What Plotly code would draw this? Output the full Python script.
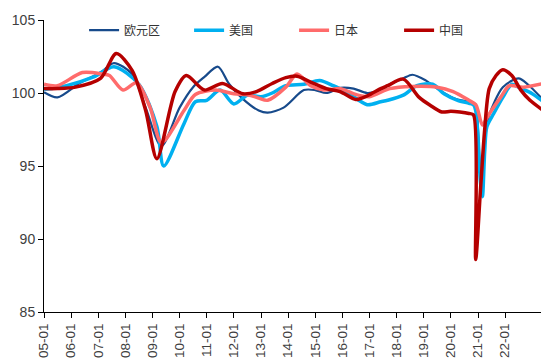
import plotly.graph_objects as go

# ---------------- data ----------------
euro_dates = ["2005-01","2005-07","2006-05","2007-02","2007-08","2008-04","2008-10","2009-05",
              "2010-01","2010-07","2010-12","2011-06","2011-11","2012-05","2012-12","2013-04",
              "2013-11","2014-08","2015-01","2015-06","2015-12","2016-06","2016-12","2017-06",
              "2017-10","2018-04","2018-08","2019-02","2019-08","2020-03","2020-09","2020-11",
              "2020-12","2021-01","2021-02","2021-03","2021-04","2021-05","2021-06","2021-12",
              "2022-07","2022-11","2023-06"]
euro_vals = [100.05, 99.7, 100.7, 101.4, 102.05, 101.3, 99.0, 96.35,
             99.0, 100.4, 101.1, 101.8, 100.6, 99.6, 98.8, 98.65,
             99.0, 100.2, 100.2, 100.0, 100.35, 100.3, 100.0, 100.2,
             100.6, 101.0, 101.25, 100.85, 100.2, 99.6, 99.4, 99.3,
             99.2, 97.5, 94.5, 93.8, 96.5, 97.8, 98.5, 100.4,
             101.0, 100.6, 99.5]

us_dates = ["2005-01","2005-11","2006-11","2007-08","2008-07","2009-03","2009-06","2010-03",
            "2010-08","2011-01","2011-07","2012-01","2012-07","2013-01","2013-06","2013-12",
            "2014-08","2015-03","2015-09","2016-04","2016-12","2017-06","2017-09","2018-04",
            "2018-10","2019-05","2019-10","2020-04","2020-09","2020-11","2020-12","2021-01",
            "2021-02","2021-03","2021-04","2021-05","2021-08","2021-12","2022-04","2022-07",
            "2023-01","2023-06"]
us_vals = [100.25, 100.5, 101.1, 101.8, 100.6, 97.7, 95.0, 97.9,
           99.4, 99.5, 100.2, 99.25, 99.85, 99.75, 100.0, 100.5,
           100.6, 100.85, 100.5, 99.95, 99.2, 99.4, 99.5, 99.85,
           100.5, 100.6, 99.95, 99.5, 99.3, 99.2, 98.8, 97.0,
           94.0, 92.9, 96.0, 97.7, 98.6, 99.7, 100.6, 100.4,
           99.95, 99.4]

jp_dates = ["2005-01","2005-07","2006-06","2007-03","2007-06","2007-12","2008-06","2008-12",
            "2009-05","2010-03","2010-08","2011-05","2012-01","2012-08","2012-12","2013-04",
            "2013-12","2014-05","2014-11","2015-05","2015-12","2016-07","2017-01","2017-10",
            "2018-08","2019-07","2020-02","2020-09","2020-12","2021-01","2021-03","2021-05",
            "2021-07","2021-11","2022-03","2022-09","2023-06"]
jp_vals = [100.6, 100.5, 101.4, 101.3, 101.2, 100.2, 100.7, 99.0,
           96.6, 98.8, 99.9, 100.2, 99.95, 99.85, 99.65, 99.5,
           100.4, 101.3, 100.5, 100.2, 100.3, 99.9, 99.75, 100.3,
           100.45, 100.4, 100.1, 99.5, 99.2, 98.8, 97.8, 98.3,
           98.8, 99.7, 100.5, 100.4, 100.65]

cn_dates = ["2005-01","2005-07","2006-03","2007-02","2007-09","2008-04","2008-10","2009-03",
            "2009-11","2010-04","2010-12","2011-08","2012-05","2012-11","2013-06","2013-12",
            "2014-05","2014-11","2015-06","2015-12","2016-07","2016-12","2017-06","2017-09",
            "2018-04","2018-11","2019-04","2019-09","2020-01","2020-05","2020-09","2020-11",
            "2020-12","2021-02","2021-04","2021-06","2021-09","2021-12","2022-04","2022-08",
            "2022-12","2023-06"]
cn_vals = [100.3, 100.3, 100.4, 101.0, 102.7, 101.55, 98.8, 95.5,
           100.1, 101.2, 100.2, 100.65, 99.95, 100.1, 100.65, 101.05,
           101.15, 100.75, 100.3, 100.1, 99.55, 99.8, 100.3, 100.5,
           100.95, 99.7, 99.15, 98.7, 98.75, 98.7, 98.6, 98.5,
           88.6, 93.2, 97.5, 100.3, 101.2, 101.6, 101.2, 100.2,
           99.5, 98.8]

series_names = ["欧元区", "美国", "日本", "中国"]
tick_dates = [f"{y}-01-01" for y in range(2005, 2023)]
tick_labels = [f"{y % 100:02d}-01" for y in range(2005, 2023)]
y_ticks = [85, 90, 95, 100, 105]

# ---------------- figure ----------------
colors = ["#174A8B", "#00B0F0", "#FF6B6B", "#B50000"]
widths = [2.2, 3.5, 3.5, 3.5]
data = [(euro_dates, euro_vals), (us_dates, us_vals), (jp_dates, jp_vals), (cn_dates, cn_vals)]

fig = go.Figure()
for (d, v), name, c, w in zip(data, series_names, colors, widths):
    fig.add_trace(go.Scatter(
        x=[s + "-01" for s in d], y=v, name=name, mode="lines",
        line=dict(color=c, width=w, shape="spline", smoothing=0.8),
    ))

# page body adds an 8px offset; figure sized to fit the 549x363 window
fig.update_layout(
    width=541, height=355,
    margin=dict(l=36, r=4, t=12, b=51),
    plot_bgcolor="white", paper_bgcolor="white",
    font=dict(family="Liberation Sans, Arial", size=14, color="#404040"),
    showlegend=True,
    legend=dict(orientation="h", x=0.08, y=0.965, xanchor="left", yanchor="middle",
                font=dict(family="Noto Sans CJK SC", size=12, color="#333333"),
                bgcolor="rgba(0,0,0,0)", entrywidth=60, itemwidth=30,
                tracegroupgap=0),
)
fig.update_xaxes(
    type="date", range=["2005-01-01", "2023-06-22"],
    tickmode="array", tickvals=tick_dates, ticktext=tick_labels, tickangle=-90,
    showline=True, linecolor="black", linewidth=1,
    ticks="outside", ticklen=5, tickcolor="black",
    showgrid=False, zeroline=False,
    tickfont=dict(size=13.5),
)
fig.update_yaxes(
    range=[85, 105], tickvals=y_ticks,
    showline=True, linecolor="black", linewidth=1,
    ticks="outside", ticklen=5, tickcolor="black",
    showgrid=False, zeroline=False,
    tickfont=dict(size=14),
)

fig.write_html("out.html")
